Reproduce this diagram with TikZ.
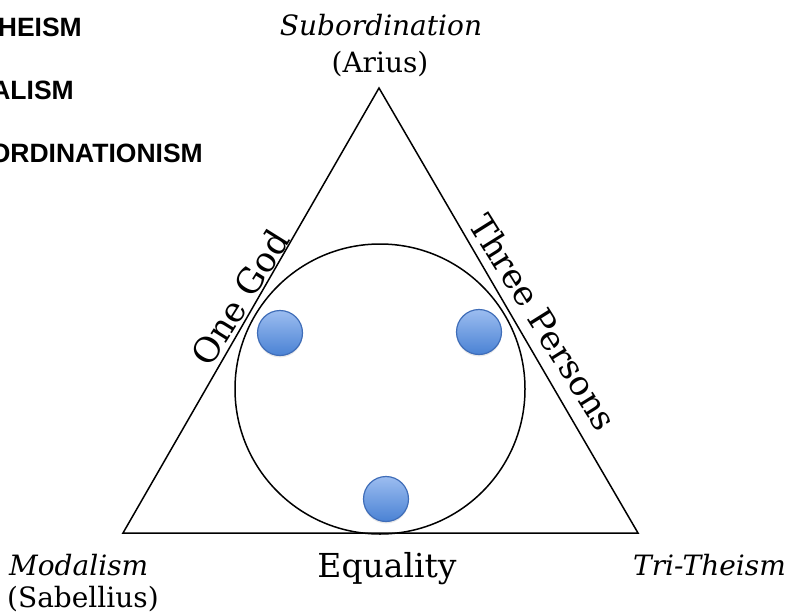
\documentclass[tikz,border=0pt]{standalone}
\usepackage{fontspec}
\setmainfont{DejaVu Serif}
\newfontfamily\headsans{Liberation Sans}
\usetikzlibrary{shadows,calc}
\definecolor{dotedge}{HTML}{3F6DB8}
\definecolor{dottop}{HTML}{9CBDF0}
\definecolor{dotbot}{HTML}{4A82D4}
\tikzset{
  edge/.style={line width=1.5pt, black},
  dot/.style={circle, minimum size=45pt, inner sep=0pt, draw=dotedge, line width=1.2pt,
    top color=dottop, bottom color=dotbot,
    drop shadow={opacity=0.18, shadow xshift=0pt, shadow yshift=-2pt}},
  headlbl/.style={font=\headsans\bfseries\fontsize{26.5}{30}\selectfont, anchor=base east, inner sep=0pt},
  vlbl/.style={font=\fontsize{28}{32}\selectfont, inner sep=0pt},
  sidelbl/.style={anchor=south}
}
\begin{document}
\begin{tikzpicture}[x=1pt, y=-1pt]
\useasboundingbox (0,0) rectangle (787,613);
% cut-off headings
\node[headlbl] (h1) at (82,36) {HEISM};
\node[headlbl] (h2) at (74,99) {ALISM};
\node[headlbl] (h3) at (203,162) {ORDINATIONISM};
% triangle
\coordinate (T) at (379,88);
\coordinate (L) at (123,533);
\coordinate (R) at (638,533);
\draw[edge, line join=miter] (T) -- (L) -- (R) -- cycle;
% circle
\node[circle, draw, line width=1.5pt, minimum size=290pt, inner sep=0pt] (c) at (380,389) {};
% dots
\node[dot] (d1) at (280,333) {};
\node[dot] (d2) at (479,332) {};
\node[dot] (d3) at (386,499) {};
% vertex labels
\node[vlbl, anchor=base] (sub) at (381,35) {\itshape Subordination};
\node[vlbl, anchor=base] (ari) at (380,72) {(Arius)};
\node[vlbl, anchor=base west] (mod) at (9,575) {\itshape Modalism};
\node[vlbl, anchor=base west] (sab) at (7,607) {(Sabellius)};
\node[vlbl, anchor=base east] (tri) at (786,575) {\itshape Tri-Theism};
\node[font=\fontsize{33}{36}\selectfont, anchor=base, inner sep=0pt] (eq) at (387,577) {Equality};
% side labels
\node[sidelbl, inner sep=2.5pt, font=\fontsize{34.5}{38}\selectfont, rotate=58] (og) at ($(L)!0.51!(T)$) {One God};
\node[sidelbl, inner sep=11pt, font=\fontsize{34}{38}\selectfont, rotate=-58] (tp) at ($(T)!0.555!(R)$) {Three Persons};
\end{tikzpicture}
\end{document}
